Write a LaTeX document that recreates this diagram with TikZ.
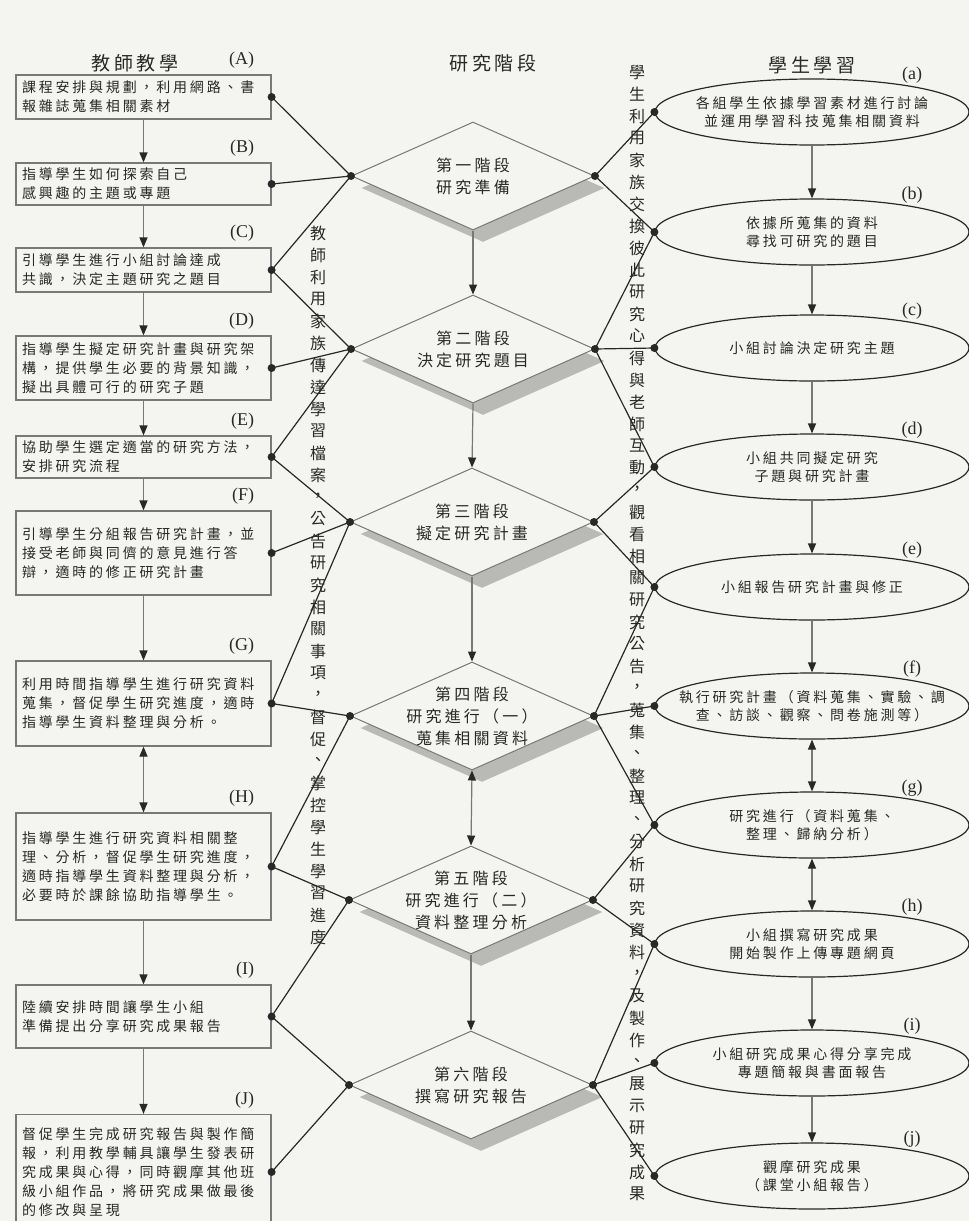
\documentclass[tikz,border=0pt]{standalone}
\usepackage{fontspec}
\usepackage{tikz}
\usetikzlibrary{arrows.meta,shapes.geometric,shadows}
\newfontfamily\cjk[LetterSpace=20]{Noto Sans CJK TC}
\newfontfamily\cjkv{Noto Sans CJK TC}
\newfontfamily\tagfont{Liberation Serif}
\definecolor{paperBg}  {RGB}{244,244,240}
\definecolor{inkDark}  {RGB}{ 40, 40, 40}
\definecolor{edgeGray} {RGB}{120,120,120}
\definecolor{shadeGray}{RGB}{185,185,182}

\begin{document}
\begin{tikzpicture}[x=0.5pt,y=-0.5pt,
    tag/.style={font=\tagfont\fontsize{9}{9}\selectfont, text=inkDark, inner sep=0pt},
    head/.style={font=\cjk\fontsize{9.5}{9.5}\selectfont, text=inkDark, inner sep=0pt},
    box/.style={rectangle, draw=edgeGray, line width=0.6pt, text width=121.5pt,
      inner xsep=3pt, inner ysep=1pt, align=left, text=inkDark,
      font=\cjk\fontsize{7}{9.5}\selectfont,
      label={[tag, anchor=east, xshift=-8.5pt, yshift=7pt]north east:{#1}}},
    stage/.style={diamond, draw=edgeGray, line width=0.5pt, fill=paperBg,
      minimum width=121.5pt, minimum height=54pt, inner sep=0pt,
      drop shadow={shadow xshift=5pt, shadow yshift=-6pt, fill=shadeGray, opacity=1}},
    stagetxt/.style={font=\cjk\fontsize{8}{11}\selectfont, align=center, text=inkDark},
    learn/.style={ellipse, draw=inkDark, line width=0.6pt,
      minimum width=157pt, minimum height=33pt, inner sep=0pt,
      label={[tag, anchor=center, xshift=50pt, yshift=1.5pt]north:{#1}}},
    learntxt/.style={font=\cjk\fontsize{7}{9}\selectfont, align=center, text=inkDark},
    vchar/.style={font=\cjkv\fontsize{8}{8}\selectfont, text=inkDark, inner sep=0pt},
    flow/.style={draw=edgeGray, line width=0.6pt,
      -{Triangle[width=4pt,length=5pt,color=inkDark]}},
    twoway/.style={draw=edgeGray, line width=0.6pt,
      {Triangle[width=4pt,length=5pt,color=inkDark]}-{Triangle[width=4pt,length=5pt,color=inkDark]}},
    link/.style={draw=inkDark, line width=0.6pt}
  ]
  \useasboundingbox (0,0) rectangle (969,1221);
  \fill[paperBg] (0,0) rectangle (969,1221);

  % column heads
  \node[head] (tHead) at (135,63) {教師教學};
  \node[head] (sHead) at (493,63) {研究階段};
  \node[head] (lHead) at (812,65) {學生學習};

  % teacher column
  \node[box={(A)}, minimum height=22pt] (A) at (143.5,97) {課程安排與規劃，利用網路、書\\報雜誌蒐集相關素材};
  \node[box={(B)}, minimum height=21pt] (B) at (143.5,184) {指導學生如何探索自己\\感興趣的主題或專題};
  \node[box={(C)}, minimum height=22pt] (C) at (143.5,270) {引導學生進行小組討論達成\\共識，決定主題研究之題目};
  \node[box={(D)}, minimum height=32pt] (D) at (143.5,368) {指導學生擬定研究計畫與研究架\\構，提供學生必要的背景知識，\\擬出具體可行的研究子題};
  \node[box={(E)}, minimum height=21pt] (E) at (143.5,457) {協助學生選定適當的研究方法，\\安排研究流程};
  \node[box={(F)}, minimum height=42pt] (F) at (143.5,553) {引導學生分組報告研究計畫，並\\接受老師與同儕的意見進行答\\辯，適時的修正研究計畫};
  \node[box={(G)}, minimum height=42.5pt] (G) at (143.5,703.5) {利用時間指導學生進行研究資料\\蒐集，督促學生研究進度，適時\\指導學生資料整理與分析。};
  \node[box={(H)}, minimum height=53.5pt] (H) at (143.5,866.5) {指導學生進行研究資料相關整\\理、分析，督促學生研究進度，\\適時指導學生資料整理與分析，\\必要時於課餘協助指導學生。};
  \node[box={(I)}, minimum height=31.5pt] (I) at (143.5,1016.5) {陸續安排時間讓學生小組\\準備提出分享研究成果報告};
  \node[box={(J)}, minimum height=57.5pt] (J) at (143.5,1172) {督促學生完成研究報告與製作簡\\報，利用教學輔具讓學生發表研\\究成果與心得，同時觀摩其他班\\級小組作品，將研究成果做最後\\的修改與呈現};

  % stages
  \node[stage, label={[stagetxt]center:{第一階段\\研究準備}}] (s1) at (473,176) {};
  \node[stage, label={[stagetxt]center:{第二階段\\決定研究題目}}] (s2) at (473,349) {};
  \node[stage, label={[stagetxt]center:{第三階段\\擬定研究計畫}}] (s3) at (472,522) {};
  \node[stage, label={[stagetxt]center:{第四階段\\研究進行（一）\\蒐集相關資料}}] (s4) at (472,716) {};
  \node[stage, label={[stagetxt]center:{第五階段\\研究進行（二）\\資料整理分析}}] (s5) at (471,900) {};
  \node[stage, label={[stagetxt]center:{第六階段\\撰寫研究報告}}] (s6) at (471,1085) {};

  % student column
  \node[learn={(a)}, label={[learntxt]center:{各組學生依據學習素材進行討論\\並運用學習科技蒐集相關資料}}] (a) at (812,112) {};
  \node[learn={(b)}, label={[learntxt]center:{依據所蒐集的資料\\尋找可研究的題目}}] (b) at (812,232) {};
  \node[learn={(c)}, label={[learntxt]center:{小組討論決定研究主題}}] (c) at (812,348) {};
  \node[learn={(d)}, label={[learntxt]center:{小組共同擬定研究\\子題與研究計畫}}] (d) at (812,467) {};
  \node[learn={(e)}, label={[learntxt]center:{小組報告研究計畫與修正}}] (e) at (812,587) {};
  \node[learn={(f)}, label={[learntxt]center:{執行研究計畫（資料蒐集、實驗、調\\查、訪談、觀察、問卷施測等）}}] (f) at (812,706) {};
  \node[learn={(g)}, label={[learntxt]center:{研究進行（資料蒐集、\\整理、歸納分析）}}] (g) at (812,825) {};
  \node[learn={(h)}, label={[learntxt]center:{小組撰寫研究成果\\開始製作上傳專題網頁}}] (h) at (812,944) {};
  \node[learn={(i)}, label={[learntxt]center:{小組研究成果心得分享完成\\專題簡報與書面報告}}] (i) at (812,1063) {};
  \node[learn={(j)}, label={[learntxt]center:{觀摩研究成果\\（課堂小組報告）}}] (j) at (812,1176) {};

  % flow arrows
  \foreach \p/\q in {A/B,B/C,C/D,D/E,E/F,F/G,H/I,I/J}
    \draw[flow] (\p) -- (\q);
  \draw[twoway] (G) -- (H);
  \foreach \p/\q in {s1/s2,s2/s3,s3/s4,s5/s6}
    \draw[flow] (\p.south) -- (\q.north);
  \draw[twoway] (s4.south) -- (s5.north);
  \foreach \p/\q in {a/b,b/c,c/d,d/e,e/f,h/i,i/j}
    \draw[flow] (\p) -- (\q);
  \draw[twoway] (f) -- (g);
  \draw[twoway] (g) -- (h);

  % links teacher -> stage -> student
  \foreach \p/\q in {A/s1,B/s1,C/s1,C/s2,D/s2,E/s2,E/s3,F/s3,G/s3,G/s4,H/s4,H/s5,I/s5,I/s6,J/s6}
    \draw[link] (\p.east) -- (\q.west);
  \foreach \p/\q in {s1/a,s1/b,s2/b,s2/c,s2/d,s3/d,s3/e,s4/e,s4/f,s4/g,s5/g,s5/h,s6/h,s6/i,s6/j}
    \draw[link] (\p.east) -- (\q.west);
  \foreach \n in {A,B,C,D,E,F,G,H,I,J}
    \fill[inkDark] (\n.east) circle (2pt);
  \foreach \n in {s1,s2,s3,s4,s5,s6}{
    \fill[inkDark] (\n.west) circle (2pt);
    \fill[inkDark] (\n.east) circle (2pt);
  }
  \foreach \n in {a,b,c,d,e,f,g,h,i,j}
    \fill[inkDark] (\n.west) circle (2pt);

  % vertical notes
  \foreach \ch [count=\k from 0] in {教,師,利,用,家,族,傳,達,學,習,檔,案,，,公,告,研,究,相,關,事,項,，,督,促,、,掌,控,學,生,學,習,進,度}
    \node[vchar] (tv\k) at (318,{233+22*\k}) {\ch};
  \foreach \ch [count=\k from 0] in {學,生,利,用,家,族,交,換,彼,此,研,究,心,得,與,老,師,互,動,，,觀,看,相,關,研,究,公,告,，,蒐,集,、,整,理,、,分,析,研,究,資,料,，,及,製,作,、,展,示,研,究,成,果}
    \node[vchar] (sv\k) at (637,{72+22*\k}) {\ch};
\end{tikzpicture}
\end{document}
